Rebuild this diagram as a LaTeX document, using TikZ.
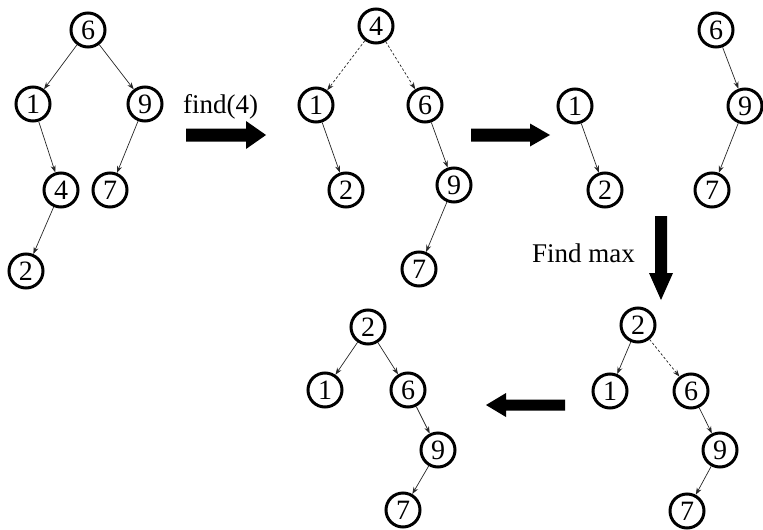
\documentclass[tikz,border=0pt]{standalone}
\usepackage{fontspec}
\setmainfont{Liberation Serif}
\usetikzlibrary{arrows.meta}
\begin{document}
\begin{tikzpicture}[x=1pt,y=-1pt,
  key/.style={circle,draw,line width=3pt,minimum size=34pt,inner sep=0pt,
    font=\fontsize{28}{28}\selectfont},
  link/.style={line width=0.7pt,draw=black!85,-{Stealth[length=7pt,width=5pt]}},
  weak/.style={link,dash pattern=on 2.5pt off 2pt},
  caption/.style={font=\fontsize{27}{27}\selectfont,inner sep=0pt,anchor=base west}]
\useasboundingbox (0,0) rectangle (763,530);

% initial tree
\node[key] (a6) at (88,30) {6};
\node[key] (a1) at (33,104) {1};
\node[key] (a9) at (145,104) {9};
\node[key] (a4) at (61,190) {4};
\node[key] (a7) at (110,190) {7};
\node[key] (a2) at (26,271) {2};
\draw[link] (a6) -- (a1);
\draw[link] (a6) -- (a9);
\draw[link] (a1) -- (a4);
\draw[link] (a9) -- (a7);
\draw[link] (a4) -- (a2);

% after splaying 4 to the root
\node[key] (b4) at (376,26) {4};
\node[key] (b1) at (316,105) {1};
\node[key] (b6) at (425,105) {6};
\node[key] (b2) at (346,190) {2};
\node[key] (b9) at (454,185) {9};
\node[key] (b7) at (419,269) {7};
\draw[weak] (b4) -- (b1);
\draw[weak] (b4) -- (b6);
\draw[link] (b1) -- (b2);
\draw[link] (b6) -- (b9);
\draw[link] (b9) -- (b7);

% two subtrees once the root is removed
\node[key] (c1) at (575,106) {1};
\node[key] (c2) at (605,190) {2};
\node[key] (c6) at (716,30) {6};
\node[key] (c9) at (745,106) {9};
\node[key] (c7) at (712,190) {7};
\draw[link] (c1) -- (c2);
\draw[link] (c6) -- (c9);
\draw[link] (c9) -- (c7);

% max of the left subtree splayed up, right subtree attached
\node[key] (d2) at (638,325) {2};
\node[key] (d1) at (610,391) {1};
\node[key] (d6) at (691,391) {6};
\node[key] (d9) at (720,450) {9};
\node[key] (d7) at (687,511) {7};
\draw[link] (d2) -- (d1);
\draw[weak] (d2) -- (d6);
\draw[link] (d6) -- (d9);
\draw[link] (d9) -- (d7);

% final tree
\node[key] (e2) at (368,327) {2};
\node[key] (e1) at (325,390) {1};
\node[key] (e6) at (408,390) {6};
\node[key] (e9) at (438,450) {9};
\node[key] (e7) at (403,510) {7};
\draw[link] (e2) -- (e1);
\draw[link] (e2) -- (e6);
\draw[link] (e6) -- (e9);
\draw[link] (e9) -- (e7);

% step arrows and their labels
\node[caption] (findlbl) at (183,113) {find(4)};
\node[caption] (maxlbl) at (532,262) {Find max};
\fill (186,128.5) -- (246,128.5) -- (246,121) -- (266,135) -- (246,149)
      -- (246,141.5) -- (186,141.5) -- cycle;
\fill (471,128.5) -- (530,128.5) -- (530,123.5) -- (550,135) -- (530,146.5)
      -- (530,141.5) -- (471,141.5) -- cycle;
\fill (655,216) -- (655,273) -- (649,273) -- (661,300) -- (673,273)
      -- (667,273) -- (667,216) -- cycle;
\fill (565,399.5) -- (506,399.5) -- (506,393) -- (486,405) -- (506,417)
      -- (506,410.5) -- (565,410.5) -- cycle;
\end{tikzpicture}
\end{document}
